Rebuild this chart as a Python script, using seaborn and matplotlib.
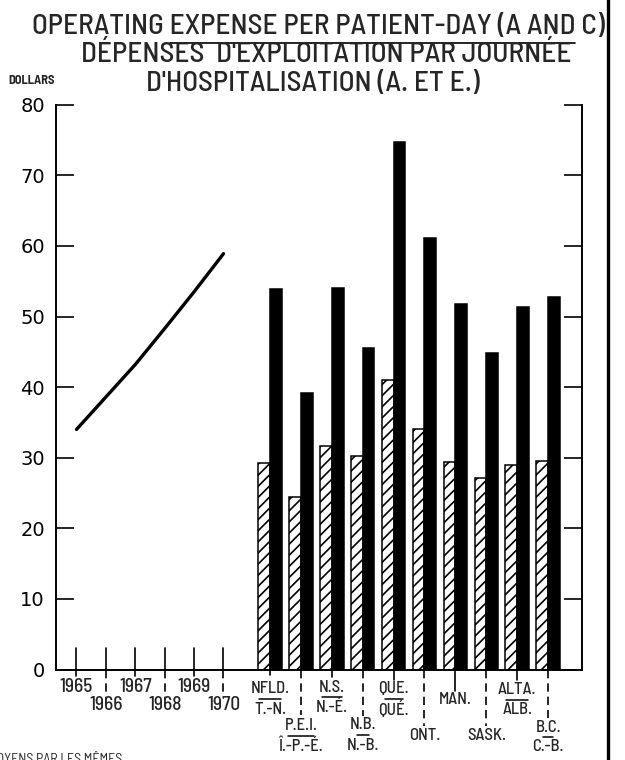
import numpy as np
import pandas as pd
import matplotlib
matplotlib.use("Agg")
import matplotlib.pyplot as plt
from matplotlib import font_manager
from matplotlib.lines import Line2D
import seaborn as sns

# ---------------- data ----------------
years = [1965, 1966, 1967, 1968, 1969, 1970]
year_labels = ["1965", "1966", "1967", "1968", "1969", "1970"]
canada_cost = [34.0, 38.6, 43.2, 48.3, 53.5, 58.9]

prov_en = ["NFLD.", "P.E.I.", "N.S.", "N.B.", "QUE.", "ONT.", "MAN.", "SASK.", "ALTA.", "B.C."]
prov_fr = ["T.-N.", "Î.-P.-É.", "N.-É.", "N.-B.", "QUÉ.", "", "", "", "ALB.", "C.-B."]
hatched_vals = [29.2, 24.5, 31.6, 30.3, 41.0, 34.0, 29.4, 27.1, 29.0, 29.5]
solid_vals = [53.9, 39.1, 54.0, 45.6, 74.7, 61.1, 51.7, 44.9, 51.4, 52.7]

y_ticks = [0, 10, 20, 30, 40, 50, 60, 70, 80]

title_en = "OPERATING EXPENSE PER PATIENT-DAY (A AND C)"
title_fr1 = "DÉPENSES  D'EXPLOITATION PAR JOURNÉE"
title_fr2 = "D'HOSPITALISATION (A. ET E.)"
unit_label = "DOLLARS"
footer = "MOYENS PAR LES MÊMES"

# ---------------- layout (pixels) ----------------
W, H = 625, 760
AX_L, AX_R, AX_T, AX_B = 56, 582, 104.7, 669.5
YEAR_PX = 29.4                      # px per year unit
XL = 1965 + (AX_L - 76.5) / YEAR_PX
XR = 1965 + (AX_R - 76.5) / YEAR_PX
PROV_START = 1965 + (270 - 76.5) / YEAR_PX
PROV_STEP = 30.9 / YEAR_PX
prov_pos = [PROV_START + i * PROV_STEP for i in range(len(prov_en))]

# label placement: px below axis
year_rows = [18, 36, 18, 36, 18, 36]
year_leader = [6, 29, 6, 29, 6, 26]
prov_en_off = [19, 56.5, 17.5, 55, 19, 66.5, 30.5, 66.5, 20, 58.5]
prov_fr_off = [39.5, 76.5, 37.5, 76, 39.5, None, None, None, 40, 77]
prov_leader = [5, 45, 7, 46, 10, 56, 21, 56, 10, 48]
prov_dashed = [False, True, False, True, False, True, False, True, False, True]
sep_half = [11, 13, 10, 6, 9, 0, 0, 0, 11, 5]

avail = {f.name for f in font_manager.fontManager.ttflist}
NARROW = "Barlow Semi Condensed" if "Barlow Semi Condensed" in avail else "DejaVu Sans"

sns.set_style("white")
plt.rcParams["font.family"] = [NARROW, "DejaVu Sans"]
plt.rcParams["hatch.linewidth"] = 1.2

fig = plt.figure(figsize=(W / 100, H / 100), dpi=100)
fig.patch.set_facecolor("white")
ax = fig.add_axes([AX_L / W, 1 - AX_B / H, (AX_R - AX_L) / W, (AX_B - AX_T) / H])
axh = AX_B - AX_T

bar_df = pd.DataFrame({
    "pos": prov_pos + prov_pos,
    "value": hatched_vals + solid_vals,
    "series": ["hatched"] * len(prov_pos) + ["solid"] * len(prov_pos),
})
sns.barplot(data=bar_df, x="pos", y="value", hue="series", native_scale=True,
            palette={"hatched": "white", "solid": "black"}, saturation=1,
            edgecolor="black", linewidth=1.1, width=0.76, dodge=True,
            errorbar=None, legend=False, ax=ax)
for bar in ax.containers[0]:
    bar.set_hatch("///")

sns.lineplot(x=years, y=canada_cost, color="black", linewidth=2.4, ax=ax)

ax.set_xlim(XL, XR)
ax.set_ylim(0, 80)
ax.set_xlabel("")
ax.set_ylabel("")
ax.set_xticks([])
ax.set_yticks(y_ticks)
ax.set_yticklabels([str(v) for v in y_ticks], fontsize=14, family="DejaVu Sans")
ax.tick_params(axis="y", direction="in", length=13, width=1.2, left=True, right=True,
               labelleft=True, labelright=False, pad=8, colors="black")
ax.spines["top"].set_visible(False)
for s in ("left", "right", "bottom"):
    ax.spines[s].set_linewidth(1.4)
    ax.spines[s].set_color("black")
ax.set_facecolor("white")
ax.grid(False)

tr = ax.get_xaxis_transform()


def yf(px_below):
    return -px_below / axh


# year ticks, leaders and labels
for i, (yr, lab) in enumerate(zip(years, year_labels)):
    ls = "-" if i % 2 == 0 else (0, (5, 3))
    ax.plot([yr, yr], [22 / axh, 0], transform=tr, color="black", lw=1.2, clip_on=False)
    ax.plot([yr, yr], [0, yf(year_leader[i])], transform=tr, color="black", lw=1.2,
            ls=ls, clip_on=False)
    ax.text(yr, yf(year_rows[i]), lab, transform=tr, ha="center", va="center",
            fontsize=14, family=NARROW, weight="medium")

# province leaders and labels
for i, x in enumerate(prov_pos):
    ls = (0, (5, 3)) if prov_dashed[i] else "-"
    ax.plot([x, x], [0, yf(prov_leader[i])], transform=tr, color="black", lw=1.2,
            ls=ls, clip_on=False)
    ax.text(x, yf(prov_en_off[i]), prov_en[i], transform=tr, ha="center", va="center",
            fontsize=12, family=NARROW, weight="medium")
    if prov_fr[i]:
        ax.text(x, yf(prov_fr_off[i]), prov_fr[i], transform=tr, ha="center", va="center",
                fontsize=12, family=NARROW, weight="medium")
        mid = (prov_en_off[i] + prov_fr_off[i]) / 2
        hw = sep_half[i] / YEAR_PX
        ax.plot([x - hw, x + hw], [yf(mid), yf(mid)], transform=tr, color="black",
                lw=1.1, clip_on=False)

# titles
fig.text(318 / W, 1 - 27 / H, title_en, ha="center", va="center", fontsize=21,
         family=NARROW, weight="medium")
fig.text(326 / W, 1 - 55 / H, title_fr1, ha="center", va="center", fontsize=21,
         family=NARROW, weight="medium")
fig.text(313 / W, 1 - 84 / H, title_fr2, ha="center", va="center", fontsize=21,
         family=NARROW, weight="medium")
fig.add_artist(Line2D([170 / W, 575 / W], [1 - 43 / H, 1 - 43 / H], color="black", lw=1.2))

fig.text(32 / W, 1 - 80 / H, unit_label, ha="center", va="center", fontsize=9,
         weight="bold", family=NARROW)
fig.text(-12 / W, 1 - 753 / H, footer, ha="left", va="top", fontsize=10, family=NARROW)

# page border
fig.add_artist(Line2D([608 / W, 608 / W], [0, 1], color="black", lw=2.4))

fig.savefig("out.png", dpi=100, facecolor="white")
